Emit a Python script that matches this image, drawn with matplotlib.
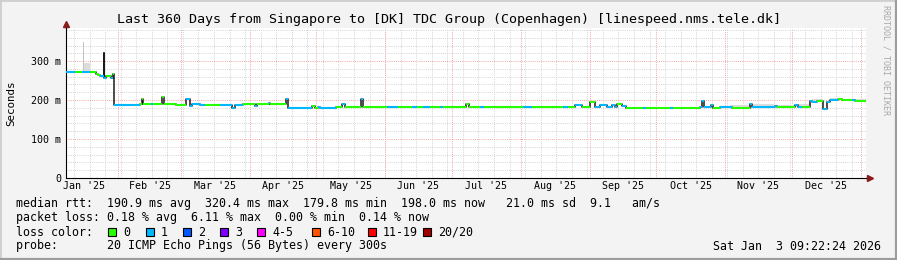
import matplotlib

matplotlib.use("Agg")
import matplotlib.dates as mdates
import matplotlib.pyplot as plt
import pandas as pd
from matplotlib.lines import Line2D
from matplotlib.patches import Rectangle
from matplotlib.transforms import blended_transform_factory

W, H = 897, 260
MONO = "DejaVu Sans Mono"

start_time = "2025-01-08 09:22:24"
end_time = "2026-01-03 09:22:24"

# median rtt as steps: step start, median (ms), lost pings out of 20
step_times = [
    "2025-01-08 09:22", "2025-01-12 10:00", "2025-01-15 14:00", "2025-01-19 05:00",
    "2025-01-21 22:00", "2025-01-22 19:00", "2025-01-23 17:00", "2025-01-25 07:00",
    "2025-01-25 17:00", "2025-01-26 05:00", "2025-01-28 15:00", "2025-01-29 12:00",
    "2025-01-30 05:00", "2025-02-10 17:00", "2025-02-11 14:00", "2025-02-12 00:00",
    "2025-02-15 14:00", "2025-02-16 12:00", "2025-02-20 14:00", "2025-02-21 12:00",
    "2025-02-26 22:00", "2025-03-03 10:00", "2025-03-05 05:00", "2025-03-06 02:00",
    "2025-03-09 17:00", "2025-03-11 22:00", "2025-03-18 17:00", "2025-03-24 02:00",
    "2025-03-25 10:00", "2025-03-29 00:00", "2025-04-03 10:00", "2025-04-04 07:00",
    "2025-04-09 17:00", "2025-04-10 05:00", "2025-04-17 10:00", "2025-04-18 07:00",
    "2025-04-29 02:00", "2025-04-30 10:00", "2025-05-01 19:00", "2025-05-02 17:00",
    "2025-05-09 22:00", "2025-05-10 19:00", "2025-05-12 14:00", "2025-05-13 22:00",
    "2025-05-21 02:00", "2025-05-22 00:00", "2025-06-01 19:00", "2025-06-06 19:00",
    "2025-06-13 02:00", "2025-06-15 10:00", "2025-06-18 00:00", "2025-06-21 05:00",
    "2025-06-25 17:00", "2025-06-27 00:00", "2025-07-07 10:00", "2025-07-08 19:00",
    "2025-07-13 17:00", "2025-07-15 12:00", "2025-08-02 00:00", "2025-08-06 02:00",
    "2025-08-20 00:00", "2025-08-22 07:00", "2025-08-25 12:00", "2025-08-28 14:00",
    "2025-09-01 05:00", "2025-09-03 12:00", "2025-09-05 17:00", "2025-09-08 22:00",
    "2025-09-11 02:00", "2025-09-12 12:00", "2025-09-13 10:00", "2025-09-15 14:00",
    "2025-09-17 10:00", "2025-09-25 02:00", "2025-09-26 12:00", "2025-10-07 05:00",
    "2025-10-08 12:00", "2025-10-20 17:00", "2025-10-21 14:00", "2025-10-22 12:00",
    "2025-10-25 14:00", "2025-10-26 14:00", "2025-10-29 17:00", "2025-11-04 02:00",
    "2025-11-12 05:00", "2025-11-13 02:00", "2025-11-23 12:00", "2025-11-24 10:00",
    "2025-12-02 12:00", "2025-12-03 19:00", "2025-12-05 14:00", "2025-12-09 05:00",
    "2025-12-10 02:00", "2025-12-12 10:00", "2025-12-15 02:00", "2025-12-16 22:00",
    "2025-12-18 05:00", "2025-12-21 19:00", "2025-12-23 14:00", "2025-12-28 02:00",
    "2025-12-29 12:00",
]
step_ms = [
    272, 272, 272, 272, 268, 265, 262, 320, 256, 263, 256, 266,
    187, 191, 202, 191, 190, 191, 208, 191, 187, 204, 185, 189,
    187, 187, 187, 180, 187, 190, 185, 191, 193, 190, 203, 180,
    184, 180, 183, 180, 183, 181, 189, 181, 204, 181, 181, 181,
    181, 181, 181, 181, 181, 181, 191, 181, 181, 181, 181, 181,
    181, 181, 188, 181, 194, 183, 187, 183, 187, 183, 189, 185,
    180, 180, 180, 180, 180, 183, 197, 183, 187, 180, 181, 180,
    189, 181, 184, 181, 187, 183, 181, 197, 196, 197, 177, 196,
    199, 204, 199, 199, 198,
]
step_loss = [
    1, 0, 1, 0, 0, 0, 1, 1, 1, 0, 1, 0,
    1, 0, 0, 0, 1, 0, 0, 0, 0, 1, 1, 1,
    1, 0, 1, 1, 1, 0, 1, 0, 1, 0, 1, 1,
    0, 0, 1, 1, 0, 0, 1, 0, 1, 0, 1, 0,
    1, 0, 1, 0, 1, 0, 0, 0, 1, 0, 1, 0,
    1, 0, 1, 0, 0, 1, 1, 1, 1, 1, 0, 1,
    0, 1, 0, 1, 0, 1, 1, 1, 1, 0, 1, 0,
    1, 1, 1, 0, 1, 1, 0, 1, 1, 0, 1, 1,
    1, 0, 0, 1, 0,
]

# smoke (spread of the 20 pings) around the median
smoke_from = ["2025-01-16 00:00", "2025-11-03 00:00", "2025-11-13 00:00", "2025-11-24 00:00",
              "2025-12-03 00:00", "2025-12-10 00:00", "2025-12-18 00:00", "2025-12-23 00:00"]
smoke_to = ["2025-01-19 00:00", "2025-11-12 00:00", "2025-11-23 00:00", "2025-12-02 00:00",
            "2025-12-09 00:00", "2025-12-15 00:00", "2025-12-21 00:00", "2026-01-03 09:22"]
smoke_low = [273, 181, 182, 182, 183, 197, 199, 199]
smoke_high = [294, 187, 191, 187, 191, 204, 206, 204]

peak_from = "2025-01-15 20:00"
peak_to = "2025-01-16 14:00"
peak_low = 273
peak_high = 350

month_labels = ["Jan '25", "Feb '25", "Mar '25", "Apr '25", "May '25", "Jun '25",
                "Jul '25", "Aug '25", "Sep '25", "Oct '25", "Nov '25", "Dec '25"]
y_ticks = [0, 100, 200, 300]
y_tick_labels = ["0", "100 m", "200 m", "300 m"]

loss_labels = ["0", "1", "2", "3", "4-5", "6-10", "11-19", "20/20"]
loss_colors = ["#26ff00", "#00b8ff", "#0059ff", "#7e00ff", "#ff00ff", "#ff5500", "#ff0000", "#a10000"]

title = "Last 360 Days from Singapore to [DK] TDC Group (Copenhagen) [linespeed.nms.tele.dk]"
rtt_line = "median rtt:  190.9 ms avg  320.4 ms max  179.8 ms min  198.0 ms now   21.0 ms sd  9.1   am/s"
loss_line = "packet loss: 0.18 % avg  6.11 % max  0.00 % min  0.14 % now"
probe_line = "probe:       20 ICMP Echo Pings (56 Bytes) every 300s"
stamp = "Sat Jan  3 09:22:24 2026"


def fx(x):
    return x / W


def fy(y):
    return 1 - y / H


def draw_grid(ax, t0, t1):
    minor = dict(color="#d4d4d4", lw=0.7, ls=(0, (1, 1.2)), zorder=0)
    major = dict(color="#f2a6a6", lw=0.7, ls=(0, (1, 1.2)), zorder=0)
    for d in pd.date_range(t0.normalize(), t1, freq="W-SUN"):
        ax.axvline(d, **minor)
    for v in range(20, 390, 20):
        if v % 100:
            ax.axhline(v, **minor)
    for d in pd.date_range("2025-02-01", t1, freq="MS"):
        ax.axvline(d, **major)
    for v in y_ticks[1:]:
        ax.axhline(v, **major)


def main():
    t0 = pd.Timestamp(start_time)
    t1 = pd.Timestamp(end_time)

    fig = plt.figure(figsize=(W / 100, H / 100), dpi=100, facecolor="#f3f3f3")
    ax = fig.add_axes([fx(66), fy(178), 800 / W, 150 / H])
    ax.set_facecolor("white")
    ax.set_xlim(t0, t1)
    ax.set_ylim(0, 385)
    draw_grid(ax, t0, t1)

    # smoke
    for a, b, lo, hi in zip(smoke_from, smoke_to, smoke_low, smoke_high):
        ax.fill_between([pd.Timestamp(a), pd.Timestamp(b)], lo, hi, color="#dcdcdc", lw=0, zorder=1)
    ax.fill_between([pd.Timestamp(peak_from), pd.Timestamp(peak_to)], peak_low, peak_high,
                    color="#c4c4c4", lw=0, zorder=1)

    # median line: black steps under coloured loss segments
    starts = pd.to_datetime(step_times)
    ends = list(starts[1:]) + [t1]
    ax.step(list(starts) + [t1], step_ms + [step_ms[-1]], where="post", color="#1a1a1a", lw=1.1, zorder=2)
    x0 = mdates.date2num(starts)
    x1 = mdates.date2num(pd.DatetimeIndex(ends))
    ax.hlines(step_ms, x0, x1, colors=[loss_colors[n] for n in step_loss], lw=1.5, zorder=3)

    # axes
    for s in ["top", "right"]:
        ax.spines[s].set_visible(False)
    for s in ["left", "bottom"]:
        ax.spines[s].set_color("black")
        ax.spines[s].set_linewidth(0.8)
    ax.plot([0, 0], [1, 1.03], color="black", lw=0.8, transform=ax.transAxes, clip_on=False)
    ax.plot([1, 1.005], [0, 0], color="black", lw=0.8, transform=ax.transAxes, clip_on=False)
    ax.plot(0, 1.03, marker="^", ms=4.5, color="#8b1a1a", transform=ax.transAxes, clip_on=False)
    ax.plot(1.005, 0, marker=">", ms=4.5, color="#8b1a1a", transform=ax.transAxes, clip_on=False)

    ax.set_yticks(y_ticks)
    ax.set_yticklabels(y_tick_labels, fontfamily=MONO, fontsize=7.2)
    ax.tick_params(axis="y", length=0, pad=3.5)
    ax.set_xticks([])

    months = pd.date_range("2025-01-01", "2026-01-01", freq="MS")
    mids = months[:-1] + (months[1:] - months[:-1]) / 2
    trans = blended_transform_factory(ax.transData, ax.transAxes)
    for m, lab in zip(mids, month_labels):
        ax.text(m, -8 / 150, lab, transform=trans, ha="center", va="center",
                fontfamily=MONO, fontsize=7.2)

    # texts around the plot
    fig.text(0.5, fy(19), title, ha="center", va="center", fontfamily=MONO, fontsize=9.6)
    fig.text(fx(11), fy(103), "Seconds", rotation=90, ha="center", va="center",
             fontfamily=MONO, fontsize=7.8)
    fig.text(fx(886), fy(5), "RRDTOOL / TOBI OETIKER", rotation=270, ha="center", va="top",
             fontfamily=MONO, fontsize=6, color="#a8a8a8")

    fs = 8.4
    fig.text(fx(16), fy(204), rtt_line, ha="left", va="center", fontfamily=MONO, fontsize=fs)
    fig.text(fx(16), fy(218), loss_line, ha="left", va="center", fontfamily=MONO, fontsize=fs)
    fig.text(fx(16), fy(232), "loss color:", ha="left", va="center", fontfamily=MONO, fontsize=fs)
    fig.text(fx(16), fy(246), probe_line, ha="left", va="center", fontfamily=MONO, fontsize=fs)
    fig.text(fx(881), fy(246), stamp, ha="right", va="center", fontfamily=MONO, fontsize=fs)

    legend_x = [108, 146, 183, 220, 257, 312, 368, 423]
    for x, lab, col in zip(legend_x, loss_labels, loss_colors):
        fig.add_artist(Rectangle((fx(x), fy(236)), 8 / W, 8 / H, transform=fig.transFigure,
                                 facecolor=col, edgecolor="black", lw=0.8))
        fig.text(fx(x + 15), fy(232), lab, ha="left", va="center", fontfamily=MONO, fontsize=fs)

    # bevelled frame
    fig.add_artist(Line2D([0, 0, 1], [0, 1, 1], transform=fig.transFigure, color="#cfcfcf", lw=2))
    fig.add_artist(Line2D([0, 1, 1], [0, 0, 1], transform=fig.transFigure, color="#9c9c9c", lw=3))

    fig.savefig("out.png", dpi=100, facecolor=fig.get_facecolor())


if __name__ == "__main__":
    main()
